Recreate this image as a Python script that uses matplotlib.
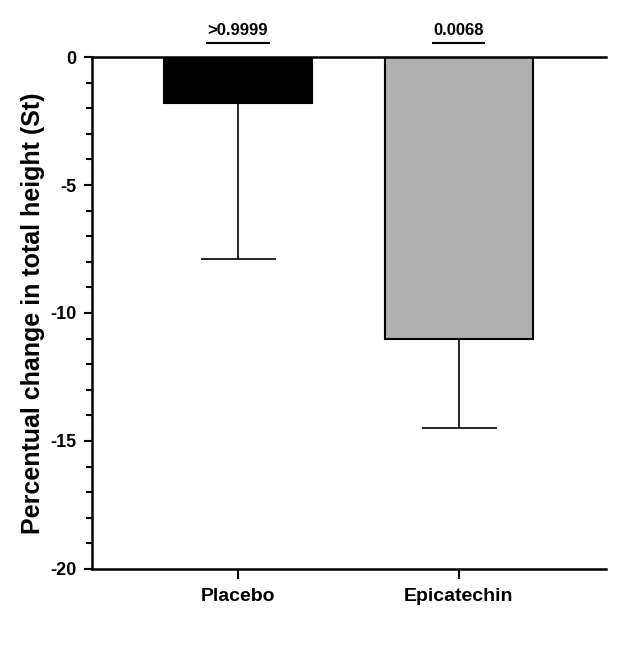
import matplotlib
matplotlib.use("Agg")
import matplotlib.pyplot as plt
import numpy as np

plt.rcParams['font.family'] = ['Liberation Sans', 'DejaVu Sans']
plt.rcParams['font.weight'] = 'bold'
plt.rcParams['axes.unicode_minus'] = False

groups = ["Placebo", "Epicatechin"]
means = [-1.8, -11.0]
errors = [6.1, 3.5]
colors = ["black", "#b0b0b0"]
pvalues = [">0.9999", "0.0068"]

fig = plt.figure(figsize=(6.41, 6.48), dpi=100)
ax = fig.add_axes([0.1435, 0.122, 0.8015, 0.79])

x = np.arange(len(groups))
ax.bar(x, means, width=0.67, color=colors, edgecolor="black", linewidth=1.5, zorder=2)
ax.errorbar(x, means, yerr=[errors, [0, 0]], fmt="none", ecolor="black",
            elinewidth=1.2, capsize=27, capthick=1.2, zorder=1)

# p-value labels above the zero line
half = [0.14, 0.115]
for xi, p, h in zip(x, pvalues, half):
    ax.plot([xi - h, xi + h], [0.55, 0.55], color="black", lw=1.5, clip_on=False)
    ax.text(xi, 0.75, p, ha="center", va="bottom", fontsize=12, fontweight="bold")

ax.set_xlim(-0.66, 1.665)
ax.set_ylim(-20, 0)
ax.set_yticks([0, -5, -10, -15, -20])
ax.set_yticks(np.arange(-20, 0, 1), minor=True)
ax.set_xticks(x)
ax.set_xticklabels(groups, fontsize=14, fontweight="bold")
ax.tick_params(axis="y", labelsize=13, width=1.5, length=6, pad=5)
ax.tick_params(axis="y", which="minor", width=1.5, length=4)
ax.tick_params(axis="x", width=1.5, length=7, pad=7)

ax.spines["right"].set_visible(False)
ax.spines["bottom"].set_visible(False)
ax.spines["left"].set_linewidth(1.8)
ax.spines["top"].set_linewidth(1.8)
ax.spines["top"].set_zorder(3)
ax.xaxis.set_ticks_position("bottom")
# draw the bottom axis line at -20
ax.axhline(-20, color="black", lw=1.8, clip_on=False)

ax.set_ylabel("Percentual change in total height (St)", fontsize=18, fontweight="bold", labelpad=4)

fig.savefig("out.png", dpi=100)
